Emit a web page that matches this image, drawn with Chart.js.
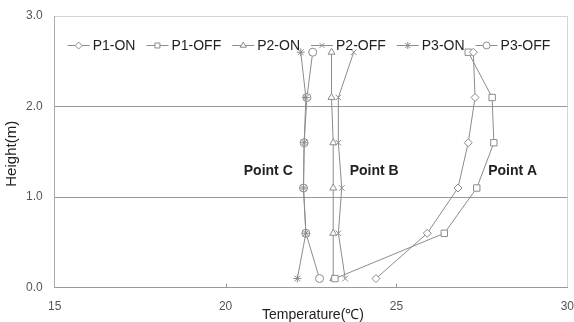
<!DOCTYPE html>
<html>
<head>
<meta charset="utf-8">
<script src="https://cdn.jsdelivr.net/npm/chart.js@4/dist/chart.umd.min.js"></script>
<style>
  body { margin: 0; background: #fff; }
  canvas { display: block; }
</style>
</head>
<body>
<canvas id="myChart" width="574" height="322"></canvas>
<script>
// heights (m) and temperatures (C)
const heights = [0.1, 0.6, 1.1, 1.6, 2.1, 2.6];
const p1On  = [24.4, 25.9, 26.8, 27.1, 27.3, 27.25];
const p1Off = [23.2, 26.4, 27.35, 27.85, 27.8, 27.1];
const p2On  = [23.15, 23.15, 23.15, 23.15, 23.1, 23.1];
const p2Off = [23.5, 23.3, 23.4, 23.3, 23.3, 23.75];
const p3On  = [22.1, 22.35, 22.28, 22.3, 22.35, 22.2];
const p3Off = [22.75, 22.35, 22.28, 22.3, 22.38, 22.55];

const seriesNames = ['P1-ON', 'P1-OFF', 'P2-ON', 'P2-OFF', 'P3-ON', 'P3-OFF'];
const seriesMarks = ['rectRot', 'rect', 'triangle', 'crossRot', 'star', 'circle'];
const seriesData = [p1On, p1Off, p2On, p2Off, p3On, p3Off];

const xTicks = [15, 20, 25, 30];
const yTicks = [0, 1, 2, 3];
const xTitle = 'Temperature(℃)';
const yTitle = 'Height(m)';

const noteText = ['Point A', 'Point B', 'Point C'];
const noteX = [28.4, 24.35, 21.25];
const noteY = [1.29, 1.29, 1.29];

const grey = '#8c8c8c';
const font = '"Liberation Sans", Arial, sans-serif';
const clear = 'rgba(0,0,0,0)';

const datasets = seriesNames.map((name, i) => ({
    label: name,
    data: seriesData[i].map((t, j) => ({ x: t, y: heights[j] })),
    showLine: true,
    borderColor: grey,
    borderWidth: 1,
    pointStyle: seriesMarks[i],
    pointRadius: seriesMarks[i] === 'rect' ? 4.5 : 4,
    pointBorderColor: grey,
    pointBackgroundColor: '#fff',
    pointBorderWidth: 1,
    tension: 0
}));

// legend inside the plot, axis titles, "Point X" notes and inner ticks
const extras = {
    id: 'extras',
    afterDatasetsDraw(chart) {
        const ctx = chart.ctx;
        const area = chart.chartArea;
        const xs = chart.scales.x, ys = chart.scales.y;

        ctx.save();
        ctx.strokeStyle = '#999';
        ctx.lineWidth = 1;
        xTicks.slice(1, -1).forEach(v => {
            const px = Math.round(xs.getPixelForValue(v)) + 0.5;
            ctx.beginPath();
            ctx.moveTo(px, area.bottom);
            ctx.lineTo(px, area.bottom - 4);
            ctx.stroke();
        });

        // axis titles
        ctx.fillStyle = '#222';
        ctx.font = '14px ' + font;
        ctx.textAlign = 'center';
        ctx.textBaseline = 'middle';
        ctx.fillText(xTitle, (area.left + area.right) / 2 + 2, 315);
        ctx.save();
        ctx.font = '15px ' + font;
        ctx.translate(12, (area.top + area.bottom) / 2 + 2);
        ctx.rotate(-Math.PI / 2);
        ctx.fillText(yTitle, 0, 0);
        ctx.restore();

        // notes
        ctx.font = 'bold 14px ' + font;
        noteText.forEach((t, i) => {
            ctx.fillText(t, xs.getPixelForValue(noteX[i]), ys.getPixelForValue(noteY[i]));
        });

        // legend
        ctx.font = '14px ' + font;
        ctx.textAlign = 'left';
        const lineLen = 22, gap = 3, itemGap = 11;
        const widths = seriesNames.map(n => lineLen + gap + ctx.measureText(n).width);
        const total = widths.reduce((a, b) => a + b, 0) + itemGap * (widths.length - 1);
        let x = (area.left + area.right) / 2 - total / 2 - 2;
        const y = 45;
        seriesNames.forEach((n, i) => {
            ctx.strokeStyle = grey;
            ctx.lineWidth = 1;
            ctx.beginPath();
            ctx.moveTo(x, y + 0.5);
            ctx.lineTo(x + lineLen, y + 0.5);
            ctx.stroke();
            ctx.fillStyle = '#fff';
            ctx.strokeStyle = grey;
            Chart.helpers.drawPoint(ctx, {
                pointStyle: seriesMarks[i],
                radius: 3.5,
                borderWidth: 1,
                rotation: 0
            }, x + lineLen / 2, y + 0.5);
            ctx.fillStyle = '#222';
            ctx.fillText(n, x + lineLen + gap, y + 1);
            x += widths[i] + itemGap;
        });
        ctx.restore();
    }
};

new Chart(document.getElementById('myChart').getContext('2d'), {
    type: 'scatter',
    data: { datasets: datasets },
    options: {
        responsive: false,
        animation: false,
        layout: { padding: { top: 16, right: 0, left: 26, bottom: 8 } },
        plugins: {
            legend: { display: false },
            tooltip: { enabled: false }
        },
        scales: {
            x: {
                type: 'linear',
                min: 15,
                max: 30,
                afterBuildTicks: axis => { axis.ticks = xTicks.map(v => ({ value: v })); },
                ticks: { color: '#555', font: { family: font, size: 12 }, padding: 0 },
                grid: {
                    drawTicks: true,
                    tickLength: 12,
                    tickColor: clear,
                    color: c => (c.tick && c.tick.value === 30) ? '#d4d4d4' : clear
                },
                border: { display: true, color: '#999' }
            },
            y: {
                type: 'linear',
                min: 0,
                max: 3,
                afterBuildTicks: axis => { axis.ticks = yTicks.map(v => ({ value: v })); },
                ticks: {
                    color: '#555',
                    font: { family: font, size: 12 },
                    padding: 0,
                    callback: v => Number(v).toFixed(1)
                },
                grid: {
                    drawTicks: true,
                    tickLength: 12,
                    tickColor: clear,
                    color: c => {
                        if (!c.tick) return '#999';
                        if (c.tick.value === 0) return clear;
                        if (c.tick.value === 3) return '#d4d4d4';
                        return '#999';
                    }
                },
                border: { display: true, color: '#aaa' }
            }
        }
    },
    plugins: [extras]
});
</script>
</body>
</html>
